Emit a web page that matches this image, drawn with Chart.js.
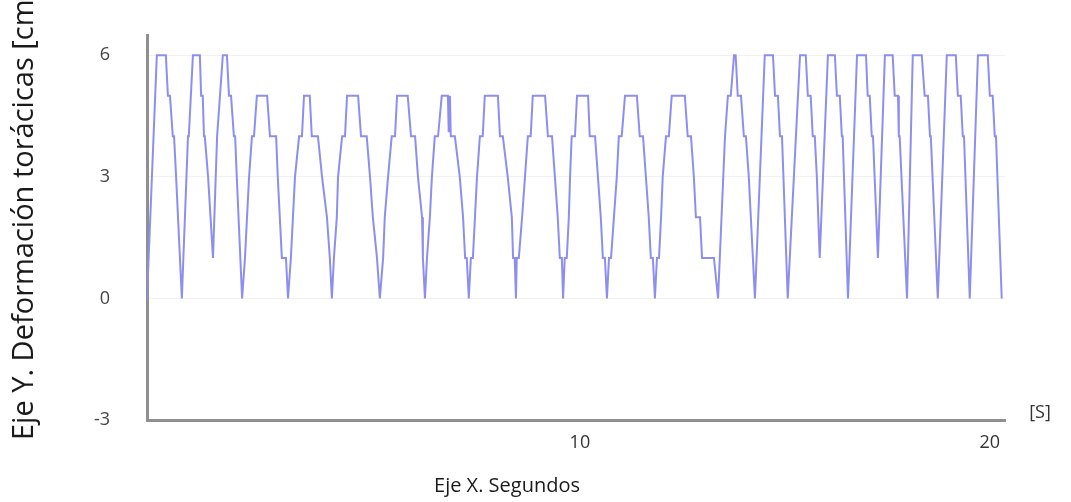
<!DOCTYPE html>
<html>
<head>
<meta charset="utf-8">
<script src="https://cdn.jsdelivr.net/npm/chart.js@4"></script>
<style>
  body { margin: 0; background: #fff; }
  #wrap { width: 1071px; height: 502px; position: relative; }
</style>
</head>
<body>
<div id="wrap"><canvas id="chart"></canvas></div>
<script>
// time in seconds
const seconds = [
  -0.56, -0.32, -0.10, -0.05, 0.00, 0.07, 0.10, 0.15, 0.29,
  0.44, 0.46, 0.56, 0.73, 0.76, 0.80, 0.83, 0.85, 0.93, 1.05,
  1.15, 1.17, 1.29, 1.39, 1.44, 1.49, 1.56, 1.59, 1.63, 1.76,
  1.83, 1.93, 2.00, 2.05, 2.12, 2.37, 2.44, 2.59, 2.63, 2.73, 2.83, 2.88, 2.95,
  3.00, 3.05, 3.15, 3.22, 3.27, 3.41, 3.46, 3.61, 3.71, 3.83, 3.90, 3.95, 4.00,
  4.07, 4.10, 4.20, 4.27, 4.32, 4.59, 4.66, 4.80, 4.88, 4.95, 5.05, 5.12, 5.20,
  5.24, 5.32, 5.41, 5.49, 5.54, 5.80, 5.88, 5.98, 6.05, 6.15, 6.17, 6.22, 6.27,
  6.34, 6.39, 6.46, 6.54, 6.63, 6.78, 6.80, 6.83, 6.85, 6.95, 7.07, 7.15, 7.20, 7.24, 7.29, 7.34, 7.39,
  7.44, 7.49, 7.56, 7.63, 7.68, 8.00, 8.05, 8.12, 8.24, 8.34, 8.37, 8.41, 8.44, 8.46, 8.51,
  8.59, 8.66, 8.73, 8.80, 8.85, 9.15, 9.22, 9.32, 9.39, 9.46, 9.51, 9.56, 9.59, 9.63, 9.68,
  9.73, 9.76, 9.80, 9.88, 9.93, 10.20, 10.24, 10.37, 10.44, 10.51, 10.56, 10.61, 10.66, 10.71, 10.76,
  10.83, 10.90, 10.95, 11.02, 11.10, 11.39, 11.46, 11.54, 11.61, 11.68, 11.73, 11.78, 11.83, 11.88, 11.93,
  11.98, 12.02, 12.10, 12.17, 12.24, 12.56, 12.63, 12.71, 12.78, 12.83, 12.93, 12.98, 13.27, 13.37,
  13.54, 13.61, 13.68, 13.76, 13.80, 13.85, 13.93, 14.00, 14.05, 14.12, 14.27,
  14.51, 14.71, 14.76, 14.83, 14.88, 14.93, 15.07,
  15.37, 15.51, 15.56, 15.63, 15.68, 15.73, 15.78, 15.85,
  16.05, 16.22, 16.27, 16.34, 16.39, 16.41, 16.54,
  16.76, 16.98, 17.02, 17.07, 17.12, 17.15, 17.27,
  17.44, 17.63, 17.68, 17.76, 17.78, 17.80, 17.98,
  18.12, 18.34, 18.41, 18.49, 18.54, 18.56, 18.73,
  18.95, 19.17, 19.22, 19.29, 19.34, 19.37, 19.51,
  19.71, 19.95, 20.00, 20.07, 20.12, 20.15, 20.29
];

// deformation in cm
const deformacion = [
  0, 6, 6, 5, 5, 4, 4, 3, 0,
  4, 4, 6, 6, 5, 5, 4, 4, 3, 1,
  4, 4, 6, 6, 5, 5, 4, 4, 3, 0,
  1, 3, 4, 4, 5, 5, 4, 4, 3, 1, 1, 0, 1,
  2, 3, 4, 4, 5, 5, 4, 4, 3, 2, 1, 0, 1,
  2, 3, 4, 4, 5, 5, 4, 4, 3, 2, 1, 0, 1,
  2, 3, 4, 4, 5, 5, 4, 4, 3, 2, 1, 0, 1,
  2, 3, 4, 4, 5, 5, 4.1, 5, 4, 4, 3, 2, 1, 1, 0, 1, 1,
  2, 3, 4, 4, 5, 5, 4, 4, 3, 2, 1, 1, 0, 1, 1,
  2, 3, 4, 4, 5, 5, 4, 4, 3, 2, 1, 1, 0, 1, 1,
  2, 3, 4, 4, 5, 5, 4, 4, 3, 2, 1, 1, 0, 1, 1,
  2, 3, 4, 4, 5, 5, 4, 4, 3, 2, 1, 1, 0, 1, 1,
  2, 3, 4, 4, 5, 5, 4, 4, 3, 2, 2, 1, 1, 0,
  4, 5, 5, 6, 6, 5, 5, 4, 4, 3, 0,
  6, 6, 5, 5, 4, 4, 0,
  6, 6, 5, 5, 4, 4, 3, 1,
  6, 6, 5, 5, 4, 4, 0,
  6, 6, 5, 5, 4, 4, 1,
  6, 6, 5, 5, 4, 4, 0,
  6, 6, 5, 5, 4, 4, 0,
  6, 6, 5, 5, 4, 4, 0,
  6, 6, 5, 5, 4, 4, 0
];

const xTicks = [10, 20];
const yTicks = [-3, 0, 3, 6];

const points = seconds.map((t, i) => ({ x: t, y: deformacion[i] }));

const axisTitles = {
    id: 'axisTitles',
    afterDraw(chart) {
        const ctx = chart.ctx;
        ctx.save();
        ctx.fillStyle = '#1a1a1a';
        ctx.font = '29px "Open Sans"';
        ctx.textBaseline = 'middle';
        ctx.textAlign = 'left';
        ctx.translate(25, 440);
        ctx.rotate(-Math.PI / 2);
        ctx.fillText('Eje Y. Deformación torácicas [cm]', 0, 0);
        ctx.restore();

        ctx.save();
        ctx.fillStyle = '#1a1a1a';
        ctx.textBaseline = 'middle';
        ctx.textAlign = 'center';
        ctx.font = '20px "Open Sans"';
        ctx.fillText('Eje X. Segundos', 507, 486);
        ctx.font = '18px "Open Sans"';
        ctx.fillStyle = '#333';
        ctx.fillText('[S]', 1040, 413);
        ctx.restore();
    }
};

const ctx = document.getElementById('chart').getContext('2d');
new Chart(ctx, {
    type: 'line',
    data: {
        datasets: [{
            data: points,
            borderColor: '#8e8ef0',
            borderWidth: 2,
            pointRadius: 0,
            tension: 0,
            fill: false
        }]
    },
    options: {
        responsive: true,
        maintainAspectRatio: false,
        animation: false,
        layout: { padding: { top: 35, right: 66, left: 0, bottom: 0 } },
        plugins: { legend: { display: false }, tooltip: { enabled: false } },
        scales: {
            x: {
                type: 'linear',
                min: -0.56,
                max: 20.37,
                afterBuildTicks: (scale) => { scale.ticks = xTicks.map(v => ({ value: v })); },
                afterFit: (scale) => {
                    scale.height = 82;
                    scale.paddingLeft = 0;
                    scale.paddingRight = 0;
                },
                grid: { display: false, drawTicks: false },
                border: { color: '#8f8f8f', width: 3 },
                ticks: {
                    padding: 12,
                    color: '#333',
                    font: { family: 'Open Sans', size: 18 }
                }
            },
            y: {
                min: -3,
                max: 6.5,
                afterBuildTicks: (scale) => { scale.ticks = yTicks.map(v => ({ value: v })); },
                afterFit: (scale) => {
                    scale.width = 147;
                    scale.paddingTop = 0;
                    scale.paddingBottom = 0;
                },
                grid: { color: '#f1f1f1', drawTicks: false },
                border: { color: '#8f8f8f', width: 3 },
                ticks: {
                    padding: 37,
                    color: '#444',
                    font: { family: 'Open Sans', size: 18 }
                }
            }
        }
    },
    plugins: [axisTitles]
});
</script>
</body>
</html>
